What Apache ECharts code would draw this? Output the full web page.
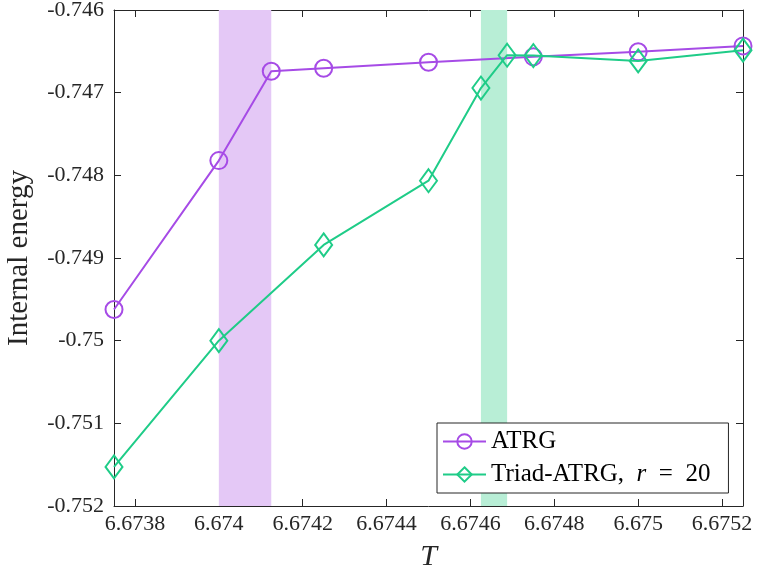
<!DOCTYPE html>
<html><head><meta charset="utf-8">
<script src="https://cdn.jsdelivr.net/npm/echarts@6/dist/echarts.min.js"></script>
<style>html,body{margin:0;padding:0;background:#fff}#c{width:757px;height:569px}</style>
</head><body><div id="c"></div>
<script>
const tATRG = [6.67375, 6.674, 6.674125, 6.67425, 6.6745, 6.67475, 6.675, 6.67525];
const eATRG = [-0.749623, -0.747822, -0.746741, -0.746704, -0.746632, -0.746567, -0.746506, -0.746434];
const tTriad = [6.67375, 6.674, 6.67425, 6.6745, 6.674625, 6.6746875, 6.67475, 6.675, 6.67525];
const eTriad = [-0.751527, -0.750000, -0.748842, -0.748065, -0.746944, -0.746547, -0.746551, -0.746616, -0.746486];
const xTicks = [6.6738, 6.674, 6.6742, 6.6744, 6.6746, 6.6748, 6.675, 6.6752];
const bandATRG = [6.674, 6.674125];
const bandTriad = [6.674625, 6.6746875];

const purple = '#a64be6';
const green = '#1fcc88';
const axisCol = '#262626';
const font = 'Liberation Serif';

const chart = echarts.init(document.getElementById('c'));
const xBase = {
  type: 'value', min: 6.67375, max: 6.67525,
  axisLine: {show: true, lineStyle: {color: axisCol, width: 1}},
  splitLine: {show: false},
  axisTick: {show: true, inside: true, length: 7, customValues: xTicks, lineStyle: {color: axisCol}},
};
const yBase = {
  type: 'value', min: -0.752, max: -0.746, interval: 0.001,
  axisLine: {show: true, lineStyle: {color: axisCol, width: 1}},
  splitLine: {show: false},
  axisTick: {show: true, inside: true, length: 7, lineStyle: {color: axisCol}},
};
chart.setOption({
  animation: false,
  grid: {left: 114, right: 14, top: 10, bottom: 63, containLabel: false, outerBoundsMode: 'none'},
  xAxis: [
    Object.assign({}, xBase, {
      position: 'bottom',
      name: 'T', nameLocation: 'middle', nameGap: 36,
      nameTextStyle: {fontFamily: font, fontStyle: 'italic', fontSize: 30, color: axisCol},
      axisLabel: {show: true, customValues: xTicks, margin: 7, fontFamily: font, fontSize: 22, color: axisCol,
        formatter: v => String(parseFloat(v.toFixed(4)))}
    }),
    Object.assign({}, xBase, {position: 'top', axisLabel: {show: false}})
  ],
  yAxis: [
    Object.assign({}, yBase, {
      position: 'left',
      name: 'Internal energy', nameLocation: 'middle', nameGap: 80,
      nameTextStyle: {fontFamily: font, fontSize: 29, color: axisCol},
      axisLabel: {show: true, margin: 10, fontFamily: font, fontSize: 22, color: axisCol,
        formatter: v => String(parseFloat(v.toFixed(3)))}
    }),
    Object.assign({}, yBase, {position: 'right', axisLabel: {show: false}})
  ],
  legend: {
    left: 437, top: 423, orient: 'vertical',
    backgroundColor: '#fff', borderColor: axisCol, borderWidth: 1,
    padding: [6, 18, 6, 5], itemGap: 8, itemWidth: 43, itemHeight: 18,
    textStyle: {fontFamily: font, fontSize: 25, color: '#000',
      rich: {i: {fontFamily: font, fontStyle: 'italic', fontSize: 25}, n: {fontFamily: font, fontSize: 25}}},
    data: ['ATRG', 'Triad-ATRG'],
    formatter: n => n === 'ATRG' ? 'ATRG' : '{n|Triad-ATRG,  }{i|r}{n|  =  20}'
  },
  series: [
    {
      type: 'line', name: 'bands', data: [], z: 1, silent: true,
      markArea: {silent: true, data: [
        [{xAxis: bandATRG[0], itemStyle: {color: '#e4c8f6'}}, {xAxis: bandATRG[1]}],
        [{xAxis: bandTriad[0], itemStyle: {color: '#b8eed6'}}, {xAxis: bandTriad[1]}]
      ]}
    },
    {
      type: 'line', name: 'ATRG', z: 3,
      data: tATRG.map((t, i) => [t, eATRG[i]]),
      symbol: 'circle', symbolSize: 17, showAllSymbol: true,
      lineStyle: {color: purple, width: 2},
      itemStyle: {color: '#ffffff00', borderColor: purple, borderWidth: 2}
    },
    {
      type: 'line', name: 'Triad-ATRG', z: 4,
      data: tTriad.map((t, i) => [t, eTriad[i]]),
      symbol: 'diamond', symbolSize: [17, 23], showAllSymbol: true,
      lineStyle: {color: green, width: 2},
      itemStyle: {color: '#ffffff00', borderColor: green, borderWidth: 2}
    }
  ]
});
</script></body></html>
